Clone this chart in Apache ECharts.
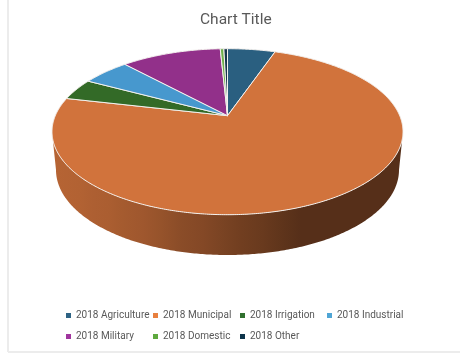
<!DOCTYPE html>
<html>
<head>
<meta charset="utf-8">
<style>html,body{margin:0;padding:0;background:#fff}#chart{width:460px;height:355px}</style>
<script src="https://cdn.jsdelivr.net/npm/echarts@6/dist/echarts.min.js"></script>
</head>
<body>
<div id="chart"></div>
<script>
// Share of water use by sector, percent of the total
const categories = ['2018 Agriculture', '2018 Municipal', '2018 Irrigation', '2018 Industrial', '2018 Military', '2018 Domestic', '2018 Other'];
const values = [5.3, 73.3, 4.2, 5.3, 11.1, 0.4, 0.4];
const sliceColors = ['#2A5F80', '#D1733C', '#336A27', '#4798CE', '#92308A', '#6FB04C', '#17364B'];
const legendColors = ['#2E6384', '#E8803F', '#30702E', '#4FA5D5', '#A0359E', '#5EA93E', '#0E344A'];

// Perspective disc: an ellipse whose true centre sits above the ellipse centre
const perspective = 0.193;
const topFace = { cx: 227.5, cy: 131.7, rx: 175.5, ry: 83 };
const bottomFace = { cx: 227.5, cy: 170, rx: 171.5, ry: 85 };

// Side wall lighting, left to right: [offset across the wall, brightness]
const wallLight = [[0, .87], [.08, .85], [.12, .83], [.16, .82], [.2, .79], [.26, .76], [.31, .72],
  [.37, .66], [.43, .63], [.49, .58], [.54, .54], [.6, .5], [.66, .45], [.71, .41], [1, .41]];

function project(face, angle) {
  const u = Math.sin(angle), v = -Math.cos(angle);
  const w = 1 - perspective * v;
  const s = 1 - perspective * perspective;
  return [
    face.cx + face.rx * Math.sqrt(s) * u / w,
    face.cy - face.ry * perspective + face.ry * s * v / w
  ];
}

function shade(hex, f) {
  const n = parseInt(hex.slice(1), 16);
  return 'rgb(' + [n >> 16, (n >> 8) & 255, n & 255].map(c => Math.round(c * f)).join(',') + ')';
}

function arcAngles(from, to) {
  const steps = Math.max(2, Math.ceil((to - from) / 0.01));
  const out = [];
  for (let i = 0; i <= steps; i++) out.push(from + (to - from) * i / steps);
  return out;
}

const total = values.reduce((a, b) => a + b, 0);
const frontFrom = Math.acos(-perspective);
const frontTo = 2 * Math.PI - frontFrom;

function sliceRenderer(index) {
  return function (params, api) {
    const before = values.slice(0, index).reduce((a, b) => a + b, 0);
    const start = before / total * 2 * Math.PI;
    const end = start + api.value(0) / total * 2 * Math.PI;
    const children = [];

    // Side wall: the part of this slice's rim facing the viewer
    const wallFrom = Math.max(start, frontFrom), wallTo = Math.min(end, frontTo);
    if (wallTo > wallFrom) {
      const angles = arcAngles(wallFrom, wallTo);
      const points = angles.map(a => project(topFace, a))
        .concat(angles.slice().reverse().map(a => project(bottomFace, a)));
      children.push({
        type: 'polygon',
        shape: { points: points },
        style: {
          fill: {
            type: 'linear', x: 0, y: 0, x2: 1, y2: 0,
            colorStops: wallLight.map(s => ({ offset: s[0], color: shade(sliceColors[index], s[1]) }))
          }
        }
      });
    }

    // Top face
    const apex = [topFace.cx, topFace.cy - topFace.ry * perspective];
    children.push({
      type: 'polygon',
      shape: { points: [apex].concat(arcAngles(start, end).map(a => project(topFace, a))) },
      style: { fill: sliceColors[index], stroke: '#F4F1EE', lineWidth: 1, lineJoin: 'round' }
    });
    return { type: 'group', children: children };
  };
}

const chart = echarts.init(document.getElementById('chart'), null, { renderer: 'canvas' });
chart.setOption({
  animation: false,
  backgroundColor: '#fff',
  color: legendColors,
  title: {
    text: 'Chart Title',
    left: 195,
    top: 7,
    textStyle: { fontFamily: 'Roboto', fontSize: 15.5, fontWeight: 'normal', color: '#595959' }
  },
  legend: {
    left: 61,
    top: 300,
    width: 360,
    itemGap: 0,
    itemWidth: 5,
    itemHeight: 5,
    itemStyle: { borderWidth: 0 },
    icon: 'rect',
    data: categories.map((name, i) => ({ name: name, itemStyle: { color: legendColors[i] } })),
    textStyle: { fontFamily: 'Roboto', fontSize: 10, color: '#595959', width: 77, lineHeight: 21 }
  },
  graphic: [
    { type: 'line', silent: true, shape: { x1: 8, y1: 0, x2: 8, y2: 352 }, style: { stroke: '#ECECEC', lineWidth: 2 } },
    { type: 'line', silent: true, shape: { x1: 8, y1: 352, x2: 460, y2: 352 }, style: { stroke: '#ECECEC', lineWidth: 2 } }
  ],
  series: categories.map((name, i) => ({
    type: 'custom',
    name: name,
    coordinateSystem: 'none',
    renderItem: sliceRenderer(i),
    data: [[values[i]]]
  }))
});
</script>
</body>
</html>
